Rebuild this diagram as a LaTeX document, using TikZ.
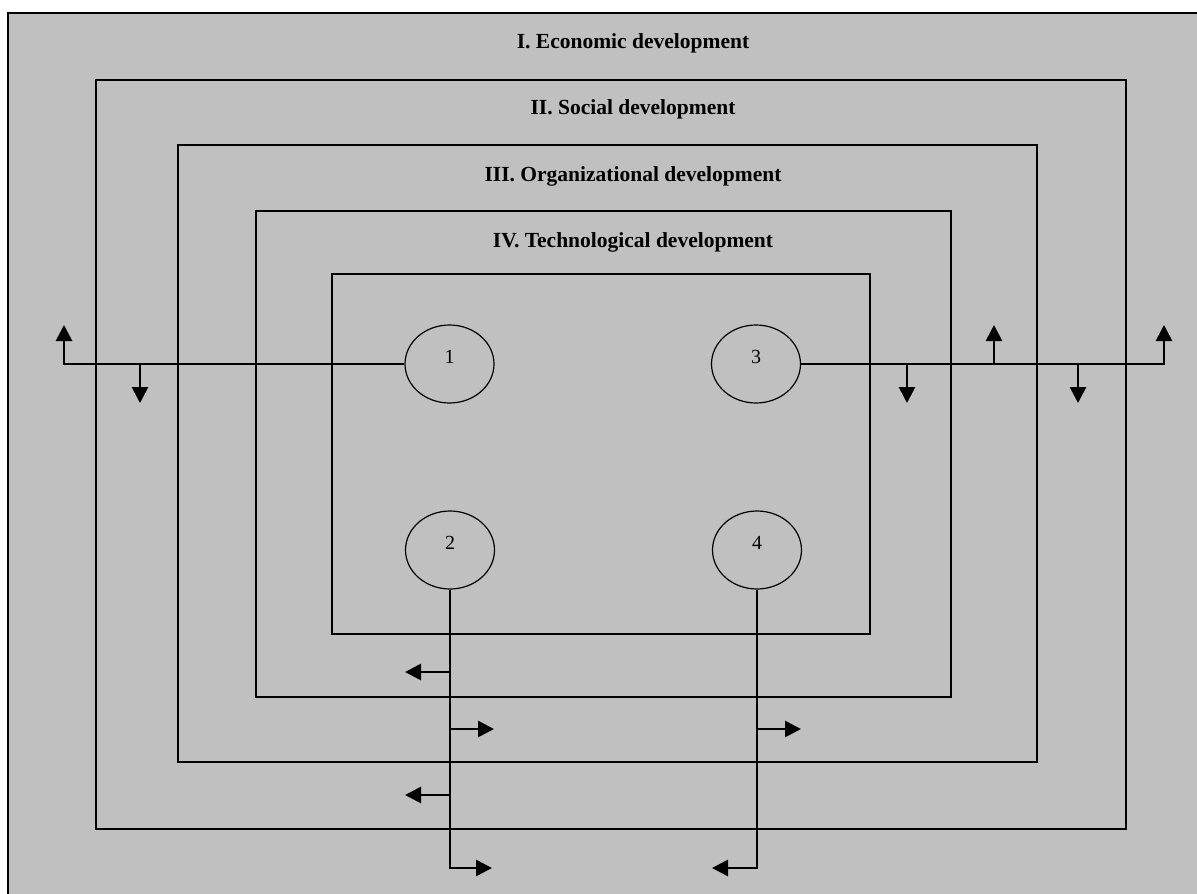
\documentclass[tikz,border=0pt]{standalone}
\usepackage{fontspec}
\setmainfont{Liberation Serif}
\usetikzlibrary{arrows.meta,shapes.geometric}
\definecolor{bggray}{HTML}{C0C0C0}
\tikzset{
  frame/.style={draw=black,line width=1.6pt},
  title/.style={font=\fontsize{21.5}{24}\selectfont\bfseries,anchor=base,inner sep=0pt},
  circ/.style={ellipse,draw=black,line width=1.2pt,minimum width=89pt,minimum height=78pt,inner sep=0pt},
  num/.style={font=\fontsize{20}{22}\selectfont,inner sep=0pt},
  conn/.style={draw=black,line width=2pt},
  arr/.style={draw=black,line width=2.8pt,-{Triangle[length=16pt,width=16pt]}},
}
\begin{document}
\begin{tikzpicture}[x=1pt,y=-1pt]
\useasboundingbox (0,0) rectangle (1197,894);
\fill[white] (0,0) rectangle (1197,894);
\fill[bggray] (8,13) rectangle (1200,900);
\draw[frame] (8,900) -- (8,13) -- (1200,13);
\draw[frame] (96,80) rectangle (1126,829);
\draw[frame] (178,145) rectangle (1037,762);
\draw[frame] (256,211) rectangle (951,697);
\draw[frame] (332,274) rectangle (870,634);
\node[title] (t1) at (633,48) {I. Economic development};
\node[title] (t2) at (633,114) {II. Social development};
\node[title] (t3) at (633,181) {III. Organizational development};
\node[title] (t4) at (633,247) {IV. Technological development};
\node[circ] (e1) at (449.5,364) {};
\node[circ] (e3) at (756,364) {};
\node[circ] (e2) at (450,550) {};
\node[circ] (e4) at (757,550) {};
\node[num] (n1) at ([yshift=7pt]e1.center) {1};
\node[num] (n3) at ([yshift=7pt]e3.center) {3};
\node[num] (n2) at ([yshift=7pt]e2.center) {2};
\node[num] (n4) at ([yshift=7pt]e4.center) {4};
% line from 1
\coordinate (l1end) at (64,364);
\coordinate (l1up) at (64,325);
\coordinate (l1b) at (140,364);
\coordinate (l1bd) at (140,403);
\draw[conn] (e1.west) -- (l1end);
\draw[arr] ([yshift=-1pt]l1end) -- (l1up);
\draw[arr] (l1b) -- (l1bd);
% line from 3
\coordinate (l3end) at (1164,364);
\coordinate (l3up) at (1164,325);
\coordinate (l3a) at (907,364);
\coordinate (l3ad) at (907,403);
\coordinate (l3b) at (994,364);
\coordinate (l3bu) at (994,325);
\coordinate (l3c) at (1078,364);
\coordinate (l3cd) at (1078,403);
\draw[conn] (e3.east) -- (l3end);
\draw[arr] ([yshift=-1pt]l3end) -- (l3up);
\draw[arr] (l3a) -- (l3ad);
\draw[arr] (l3b) -- (l3bu);
\draw[arr] (l3c) -- (l3cd);
% line from 2
\coordinate (l2end) at (450,868);
\coordinate (l2endr) at (492,868);
\coordinate (l2a) at (451,672);
\coordinate (l2al) at (405,672);
\coordinate (l2b) at (450,729);
\coordinate (l2br) at (494,729);
\coordinate (l2c) at (451,795);
\coordinate (l2cl) at (405,795);
\draw[conn] (e2.south) -- (l2end);
\draw[arr] ([xshift=-1pt]l2end) -- (l2endr);
\draw[arr] (l2a) -- (l2al);
\draw[arr] (l2b) -- (l2br);
\draw[arr] (l2c) -- (l2cl);
% line from 4
\coordinate (l4end) at (757,868);
\coordinate (l4endl) at (712,868);
\coordinate (l4a) at (757,729);
\coordinate (l4ar) at (801,729);
\draw[conn] (e4.south) -- (l4end);
\draw[arr] ([xshift=1pt]l4end) -- (l4endl);
\draw[arr] (l4a) -- (l4ar);
\end{tikzpicture}
\end{document}
